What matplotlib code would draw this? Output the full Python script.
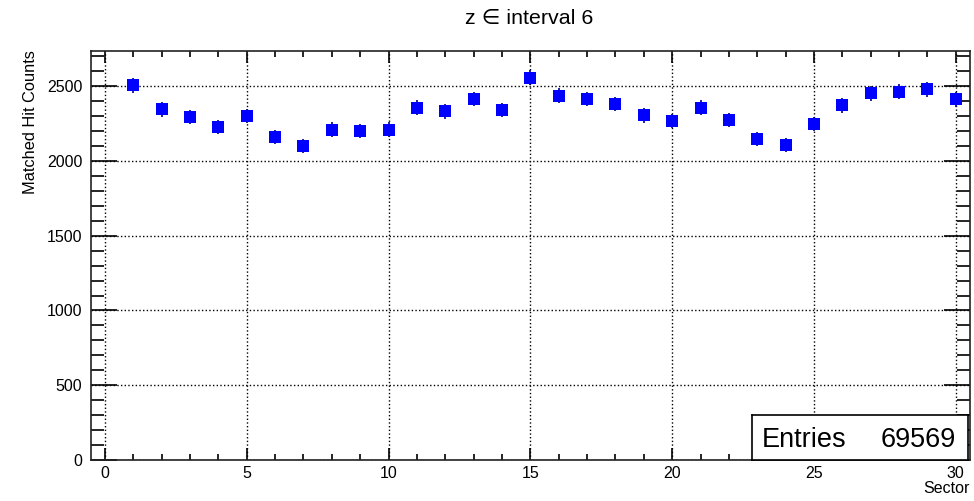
#Matched hit counts per sector, z interval 6
import numpy as np
import matplotlib.pyplot as plt
from matplotlib.ticker import MultipleLocator

plt.rcParams['font.family'] = ['Liberation Sans', 'DejaVu Sans']

#Data
sectors = [1, 2, 3, 4, 5, 6, 7, 8, 9, 10, 11, 12, 13, 14, 15,
           16, 17, 18, 19, 20, 21, 22, 23, 24, 25, 26, 27, 28, 29, 30]
counts = [2505, 2344, 2295, 2228, 2301, 2161, 2098, 2210, 2201, 2210,
          2357, 2331, 2415, 2339, 2556, 2435, 2415, 2380, 2304, 2266,
          2357, 2272, 2145, 2107, 2248, 2371, 2451, 2462, 2478, 2413]
entries = 69569
title = "z \u2208 interval 6"

#Poisson errors
errors = np.sqrt(counts)

fig = plt.figure(figsize=(9.74, 5.01), dpi=100)
ax = fig.add_axes([0.0931, 0.0818, 0.9028, 0.8164])

ax.errorbar(sectors, counts, yerr=errors, fmt='s', color='#0000ff',
            ecolor='#00008b', elinewidth=1.2, capsize=3, capthick=1.2,
            markersize=9, markeredgewidth=0, zorder=3)

ax.set_xlim(-0.5, 30.5)
ax.set_ylim(0, 2735)

ax.xaxis.set_major_locator(MultipleLocator(5))
ax.xaxis.set_minor_locator(MultipleLocator(1))
ax.yaxis.set_major_locator(MultipleLocator(500))
ax.yaxis.set_minor_locator(MultipleLocator(100))

ax.tick_params(axis='x', which='major', direction='in', length=8.6, width=1.2,
               top=True, labelsize=11.5, pad=4)
ax.tick_params(axis='x', which='minor', direction='in', length=4.3, width=1.2, top=True)
ax.tick_params(axis='y', which='major', direction='in', length=18.7, width=1.2,
               right=True, labelsize=11.5, pad=6)
ax.tick_params(axis='y', which='minor', direction='in', length=9.4, width=1.2, right=True)

for s in ax.spines.values():
    s.set_linewidth(1.2)
    s.set_color('#222222')

ax.grid(True, which='major', linestyle=':', color='black', linewidth=1.0)
ax.set_axisbelow(True)

fig.text(0.543, 0.963, title, ha='center', va='center', fontsize=15.4)
fig.text(0.0316, 0.899, "Matched Hit Counts", rotation=90, ha='center', va='top', fontsize=11.8)
fig.text(0.996, 0.024, "Sector", ha='right', va='center', fontsize=11.5)

#Stats box
box = ax.inset_axes([0.752, 0.0, 0.246, 0.110])
box.set_xticks([])
box.set_yticks([])
box.set_facecolor('white')
box.set_zorder(5)
for s in box.spines.values():
    s.set_linewidth(1.2)
    s.set_color('black')
box.text(0.045, 0.45, "Entries", ha='left', va='center', fontsize=19.5, transform=box.transAxes)
box.text(0.945, 0.45, str(entries), ha='right', va='center', fontsize=19.5, transform=box.transAxes)

fig.savefig("out.png", dpi=100)
